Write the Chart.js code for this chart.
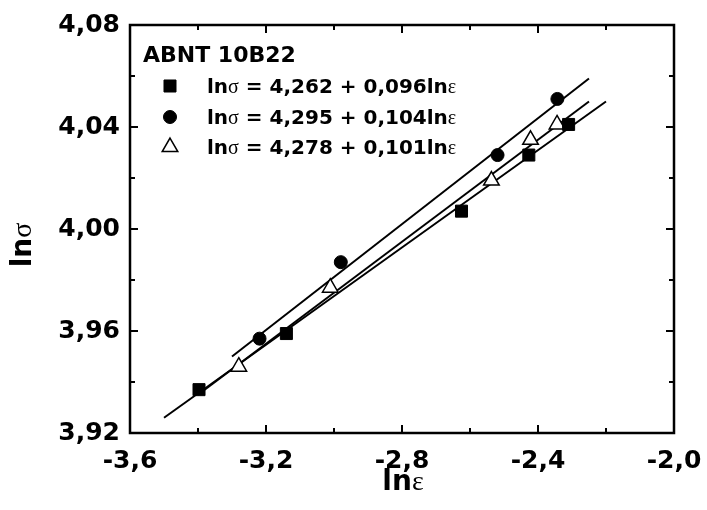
<!DOCTYPE html>
<html>
<head>
<meta charset="utf-8">
<script src="https://cdn.jsdelivr.net/npm/chart.js@4.4.0/dist/chart.umd.min.js"></script>
<style>
  html, body { margin: 0; padding: 0; background: #fff; }
</style>
</head>
<body>
<canvas id="myChart" width="707" height="510"></canvas>
<script>
// data (x = ln eps, y = ln sigma)
const squareX = [-3.397, -3.140, -2.625, -2.427, -2.310];
const squareY = [3.937, 3.959, 4.007, 4.029, 4.041];
const circleX = [-3.219, -2.980, -2.519, -2.343];
const circleY = [3.957, 3.987, 4.029, 4.051];
const triangleX = [-3.280, -3.011, -2.537, -2.422, -2.344];
const triangleY = [3.946, 3.977, 4.019, 4.035, 4.041];

// end points of the fitted lines, as drawn
const fitSquareX = [-3.50, -2.20];
const fitSquareY = [3.926, 4.050];
const fitCircleX = [-3.30, -2.25];
const fitCircleY = [3.950, 4.059];
const fitTriangleX = [-3.40, -2.25];
const fitTriangleY = [3.935, 4.050];

// ticks
const xMajor = [-3.6, -3.2, -2.8, -2.4, -2.0];
const xMinor = [-3.4, -3.0, -2.6, -2.2];
const xTickLabels = ['-3,6', '-3,2', '-2,8', '-2,4', '-2,0'];
const yMajor = [3.92, 3.96, 4.00, 4.04, 4.08];
const yMinor = [3.94, 3.98, 4.02, 4.06];
const yTickLabels = ['3,92', '3,96', '4,00', '4,04', '4,08'];

// texts
const legendTitle = 'ABNT 10B22';
const legendLabels = ['lnσ = 4,262 + 0,096lnε', 'lnσ = 4,295 + 0,104lnε', 'lnσ = 4,278 + 0,101lnε'];
const xTitle = 'lnε';
const yTitle = 'lnσ';

const BOLD = '"DejaVu Sans", sans-serif';
const GREEK = '"Liberation Serif", serif';

function pts(xs, ys) {
    return xs.map((x, i) => ({ x: x, y: ys[i] }));
}

// marker styles (shared by plot and legend)
const markers = [
    { pointStyle: 'rect', radius: 8.5, borderWidth: 1, fill: '#000' },
    { pointStyle: 'circle', radius: 6.5, borderWidth: 1, fill: '#000' },
    { pointStyle: 'triangle', radius: 9, borderWidth: 1.5, fill: '#fff' }
];

function markerSet(data, m) {
    return {
        data: data,
        pointStyle: m.pointStyle,
        pointRadius: m.radius,
        pointBorderWidth: m.borderWidth,
        pointBackgroundColor: m.fill,
        pointBorderColor: '#000',
        showLine: false
    };
}

function lineSet(data) {
    return {
        data: data,
        showLine: true,
        pointRadius: 0,
        borderColor: '#000',
        borderWidth: 2
    };
}

// draw text with greek letters in a different (regular serif) font
function drawRich(ctx, text, x, y, size) {
    const parts = text.split(/([σε])/).filter(s => s.length);
    let cx = x;
    parts.forEach(p => {
        ctx.font = (/[σε]/.test(p) ? size + 'px ' + GREEK : 'bold ' + size + 'px ' + BOLD);
        ctx.fillText(p, cx, y);
        cx += ctx.measureText(p).width;
    });
    return cx - x;
}

function richWidth(ctx, text, size) {
    const parts = text.split(/([σε])/).filter(s => s.length);
    let w = 0;
    parts.forEach(p => {
        ctx.font = (/[σε]/.test(p) ? size + 'px ' + GREEK : 'bold ' + size + 'px ' + BOLD);
        w += ctx.measureText(p).width;
    });
    return w;
}

const framePlugin = {
    id: 'frame',
    afterDraw(chart) {
        const ctx = chart.ctx;
        const a = chart.chartArea;
        const xs = chart.scales.x;
        const ys = chart.scales.y;
        ctx.save();
        ctx.strokeStyle = '#000';
        ctx.fillStyle = '#000';

        // inward ticks on all four sides
        ctx.lineWidth = 2;
        ctx.beginPath();
        const tick = (vals, len) => {
            vals.forEach(v => {
                const px = xs.getPixelForValue(v);
                ctx.moveTo(px, a.bottom); ctx.lineTo(px, a.bottom - len);
                ctx.moveTo(px, a.top); ctx.lineTo(px, a.top + len);
            });
        };
        const ticky = (vals, len) => {
            vals.forEach(v => {
                const py = ys.getPixelForValue(v);
                ctx.moveTo(a.left, py); ctx.lineTo(a.left + len, py);
                ctx.moveTo(a.right, py); ctx.lineTo(a.right - len, py);
            });
        };
        tick(xMajor, 8); tick(xMinor, 5);
        ticky(yMajor, 8); ticky(yMinor, 5);
        ctx.stroke();

        ctx.lineWidth = 2.5;
        ctx.strokeRect(a.left, a.top, a.right - a.left, a.bottom - a.top);

        // legend inside the plot
        ctx.textBaseline = 'alphabetic';
        ctx.textAlign = 'left';
        ctx.font = 'bold 22px ' + BOLD;
        ctx.fillText(legendTitle, 143, 62);
        const rowY = [86, 117, 147];
        legendLabels.forEach((lab, i) => {
            const m = markers[i];
            ctx.fillStyle = m.fill;
            ctx.lineWidth = m.borderWidth;
            Chart.helpers.drawPoint(ctx, { pointStyle: m.pointStyle, radius: m.radius, borderWidth: m.borderWidth, rotation: 0 }, 170, rowY[i]);
            ctx.fillStyle = '#000';
            drawRich(ctx, lab, 207, rowY[i] + 7, 20);
        });

        // axis titles
        const xw = richWidth(ctx, xTitle, 28);
        drawRich(ctx, xTitle, 403 - xw / 2, 490, 28);
        ctx.translate(31, 245);
        ctx.rotate(-Math.PI / 2);
        const yw = richWidth(ctx, yTitle, 28);
        drawRich(ctx, yTitle, -yw / 2, 0, 28);
        ctx.restore();
    }
};

const data = {
    datasets: [
        markerSet(pts(squareX, squareY), markers[0]),
        markerSet(pts(circleX, circleY), markers[1]),
        markerSet(pts(triangleX, triangleY), markers[2]),
        lineSet(pts(fitSquareX, fitSquareY)),
        lineSet(pts(fitCircleX, fitCircleY)),
        lineSet(pts(fitTriangleX, fitTriangleY))
    ]
};

const config = {
    type: 'scatter',
    data: data,
    options: {
        responsive: false,
        animation: false,
        layout: { padding: { top: 25, right: 33, left: 0, bottom: 0 } },
        plugins: { legend: { display: false }, tooltip: { enabled: false } },
        scales: {
            x: {
                min: -3.6,
                max: -2.0,
                afterBuildTicks: s => { s.ticks = xMajor.map(v => ({ value: v })); },
                afterFit: s => { s.height = 77; s.paddingLeft = 0; s.paddingRight = 0; },
                grid: { display: false, drawTicks: false },
                border: { display: false },
                ticks: {
                    color: '#000',
                    padding: 13,
                    maxRotation: 0,
                    font: { family: BOLD, size: 25, weight: 'bold' },
                    callback: (v, i) => xTickLabels[i]
                }
            },
            y: {
                min: 3.92,
                max: 4.08,
                afterBuildTicks: s => { s.ticks = yMajor.map(v => ({ value: v })); },
                afterFit: s => { s.width = 130; s.paddingTop = 0; s.paddingBottom = 0; },
                grid: { display: false, drawTicks: false },
                border: { display: false },
                ticks: {
                    color: '#000',
                    padding: 10,
                    font: { family: BOLD, size: 25, weight: 'bold' },
                    callback: (v, i) => yTickLabels[i]
                }
            }
        }
    },
    plugins: [framePlugin]
};

var ctx = document.getElementById('myChart').getContext('2d');
var myChart = new Chart(ctx, config);
</script>
</body>
</html>
